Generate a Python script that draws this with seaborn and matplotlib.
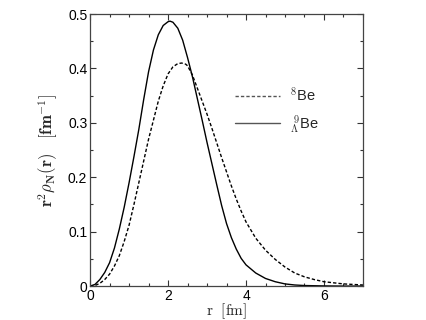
import numpy as np
import pandas as pd
import matplotlib
matplotlib.use("Agg")
import matplotlib.pyplot as plt
from matplotlib.ticker import MultipleLocator
import seaborn as sns

# r grid [fm] and r^2 rho_N(r) [fm^-1]
r_be9 = [0.0, 0.125, 0.25, 0.375, 0.5, 0.625, 0.75, 0.875, 1.0, 1.125, 1.25,
         1.375, 1.5, 1.625, 1.75, 1.875, 2.0, 2.05, 2.125, 2.25, 2.375, 2.5,
         2.625, 2.75, 2.875, 3.0, 3.125, 3.25, 3.375, 3.5, 3.625, 3.75, 3.875,
         4.0, 4.25, 4.5, 4.75, 5.0, 5.25, 5.5, 6.0, 6.5, 7.0]
be9_lambda = [0.0, 0.003, 0.012, 0.025, 0.043, 0.07, 0.105, 0.145, 0.19, 0.238,
              0.288, 0.343, 0.394, 0.434, 0.462, 0.479, 0.486, 0.487, 0.485,
              0.474, 0.452, 0.42, 0.385, 0.345, 0.305, 0.264, 0.225, 0.186,
              0.148, 0.115, 0.089, 0.068, 0.051, 0.039, 0.024, 0.014, 0.008,
              0.004, 0.002, 0.001, 0.0003, 0.0, 0.0]

r_be8 = [0.0, 0.125, 0.25, 0.375, 0.5, 0.625, 0.75, 0.875, 1.0, 1.125, 1.25,
         1.375, 1.5, 1.625, 1.75, 1.875, 2.0, 2.125, 2.25, 2.35, 2.45, 2.5,
         2.625, 2.75, 2.875, 3.0, 3.125, 3.25, 3.375, 3.5, 3.625, 3.75, 3.875,
         4.0, 4.25, 4.5, 4.75, 5.0, 5.25, 5.5, 5.75, 6.0, 6.25, 6.5, 6.75, 7.0]
be8 = [0.0, 0.001, 0.005, 0.012, 0.022, 0.037, 0.056, 0.082, 0.112, 0.15, 0.19,
       0.23, 0.27, 0.305, 0.34, 0.368, 0.39, 0.403, 0.409, 0.41, 0.408, 0.405,
       0.388, 0.364, 0.34, 0.316, 0.29, 0.263, 0.236, 0.21, 0.184, 0.16, 0.138,
       0.118, 0.088, 0.066, 0.049, 0.035, 0.024, 0.017, 0.012, 0.008, 0.006,
       0.004, 0.003, 0.002]

labels = [r"$^{\mathsf{8}}$Be", r"$^{\ \mathsf{9}}_{\Lambda}$Be"]

df = pd.concat([
    pd.DataFrame({"r": r_be8, "v": be8, "nuc": labels[0]}),
    pd.DataFrame({"r": r_be9, "v": be9_lambda, "nuc": labels[1]}),
])

sns.set_theme(style="ticks")
plt.rcParams["font.family"] = ["Liberation Sans", "DejaVu Sans"]
plt.rcParams["mathtext.fontset"] = "cm"

fig = plt.figure(figsize=(4.27, 3.2), dpi=100)
ax = fig.add_axes([0.211, 0.106, 0.639, 0.850])

sns.lineplot(data=df, x="r", y="v", hue="nuc", style="nuc",
             palette={labels[0]: "black", labels[1]: "black"},
             dashes={labels[0]: (2.4, 1.5), labels[1]: ""},
             linewidth=1.0, ax=ax, legend=True, sort=False)

ax.set_xlim(0, 7)
ax.set_ylim(0, 0.5)
ax.xaxis.set_major_locator(MultipleLocator(2))
ax.xaxis.set_minor_locator(MultipleLocator(0.5))
ax.yaxis.set_major_locator(MultipleLocator(0.1))
ax.yaxis.set_minor_locator(MultipleLocator(0.05))
ax.set_xticks([0, 2, 4, 6])
ax.set_xticklabels(["0", "2", "4", "6"])
ax.set_yticks([0, 0.1, 0.2, 0.3, 0.4, 0.5])
ax.set_yticklabels(["0", "0.1", "0.2", "0.3", "0.4", "0.5"])
ax.tick_params(which="both", direction="in", top=True, right=True,
               labelsize=10, colors="#333333", labelcolor="black", pad=2)
ax.tick_params(which="major", length=4, width=0.8)
ax.tick_params(which="minor", length=2.5, width=0.8)
for s in ax.spines.values():
    s.set_linewidth(0.9)
    s.set_color("#444444")

ax.set_xlabel(r"$\mathrm{r}\ \ \mathrm{[fm]}$", fontsize=11, labelpad=-1)
ax.set_ylabel(r"$\mathbf{r^2}\rho_{\mathbf{N}}\mathbf{(r)}\ \ \ \mathbf{[fm^{-1}]}$",
              fontsize=12, labelpad=6)

leg = ax.legend(loc="upper left", bbox_to_anchor=(0.531, 0.735), frameon=False,
                handlelength=3.1, fontsize=10.5, labelspacing=0.6,
                handletextpad=0.7, borderpad=0, borderaxespad=0)
for h in leg.get_lines():
    h.set_linewidth(1.0)
    h.set_color("#555555")

fig.savefig("out.png", dpi=100)
